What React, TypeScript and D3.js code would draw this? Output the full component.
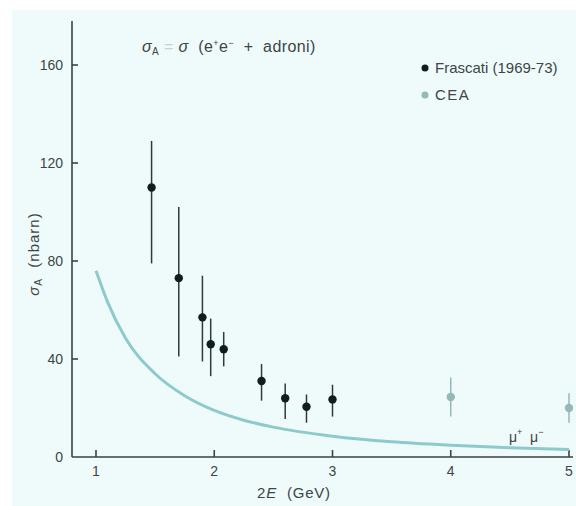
import * as d3 from "d3";

// Frascati (1969-73) points: 2E in GeV, sigma in nbarn, error bar ends
const frascatiX = [1.47, 1.7, 1.9, 1.97, 2.08, 2.4, 2.6, 2.78, 3.0];
const frascatiY = [110, 73, 57, 46, 44, 31, 24, 20.5, 23.5];
const frascatiLo = [79, 41, 39, 33, 37, 23, 15.5, 14, 16.5];
const frascatiHi = [129, 102, 74, 56.5, 51, 38, 30, 25.5, 29.5];

// CEA points
const ceaX = [4.0, 5.0];
const ceaY = [24.5, 20];
const ceaLo = [16.5, 14];
const ceaHi = [32.5, 26];

// mu+ mu- curve
const muX = [1.0, 1.1, 1.25, 1.5, 1.75, 2.0, 2.25, 2.5, 3.0, 3.5, 4.0, 4.5, 5.0];
const muY = [76, 63, 48.5, 34, 25, 19, 15, 12.2, 8.5, 6.2, 4.8, 3.8, 3.1];

const xTicks = [1, 2, 3, 4, 5];
const yTicks = [0, 40, 80, 120, 160];

const W = 576;
const H = 506;

const font = "'Liberation Sans', Arial, sans-serif";
const textColor = "#3d4545";
const axisColor = "#3a4242";
const darkDot = "#0e1e1e";
const lightDot = "#93b9b9";
const curveColor = "#8ecaca";

// keep runs of spaces in labels
const pre = { whiteSpace: "pre" as const };

export default function App() {
  const x = d3.scaleLinear([1, 5], [96, 569]);
  const y = d3.scaleLinear([0, 160], [457, 65]);

  const x0 = 72;
  const y0 = y(0);

  const curve = d3
    .line<number>()
    .x((_, i) => x(muX[i]))
    .y((d) => y(d))
    .curve(d3.curveMonotoneX)(muY);

  return (
    <svg
      width={W}
      height={H}
      style={{ position: "absolute", left: 0, top: 0, fontFamily: font }}
    >
      <rect width={W} height={H} fill="#ffffff" />
      <rect x={12} y={10} width={W - 12} height={H - 10} fill="#effbfb" />

      {/* axes */}
      <g stroke={axisColor} strokeWidth={1.6} fill="none">
        <line x1={x0} y1={21} x2={x0} y2={y0} />
        <line x1={x0} y1={y0} x2={573} y2={y0} />
        {xTicks.map((t) => (
          <line key={t} x1={x(t)} x2={x(t)} y1={y0} y2={y0 - 7} />
        ))}
        {yTicks.slice(1).map((t) => (
          <line key={t} x1={x0} x2={x0 + 6} y1={y(t)} y2={y(t)} />
        ))}
      </g>
      <g fill={textColor} fontSize={14}>
        {xTicks.map((t) => (
          <text key={t} x={x(t)} y={y0 + 19} textAnchor="middle">
            {t}
          </text>
        ))}
        {yTicks.map((t) => (
          <text key={t} x={x0 - 9} y={y(t) + 5} textAnchor="end">
            {t}
          </text>
        ))}
      </g>

      {/* mu+ mu- curve */}
      <path d={curve ?? ""} fill="none" stroke={curveColor} strokeWidth={3} />

      {/* error bars */}
      <g stroke="#2e3a3a" strokeWidth={1.5}>
        {frascatiX.map((v, i) => (
          <line
            key={i}
            x1={x(v)}
            x2={x(v)}
            y1={y(frascatiLo[i])}
            y2={y(frascatiHi[i])}
          />
        ))}
      </g>
      <g stroke={lightDot} strokeWidth={1.5}>
        {ceaX.map((v, i) => (
          <line key={i} x1={x(v)} x2={x(v)} y1={y(ceaLo[i])} y2={y(ceaHi[i])} />
        ))}
      </g>
      {frascatiX.map((v, i) => (
        <circle key={i} cx={x(v)} cy={y(frascatiY[i])} r={4.2} fill={darkDot} />
      ))}
      {ceaX.map((v, i) => (
        <circle key={i} cx={x(v)} cy={y(ceaY[i])} r={4.2} fill={lightDot} />
      ))}

      {/* title */}
      <text
        x={142}
        y={52}
        fontSize={16}
        fill={textColor}
        letterSpacing={0.4}
        style={pre}
      >
        <tspan fontStyle="italic">σ</tspan>
        <tspan fontSize={10} dy={3}>A</tspan>
        <tspan dy={-3} fill="#b9d6d6">{" = "}</tspan>
        <tspan fontStyle="italic">σ</tspan>
        <tspan>{"  (e"}</tspan>
        <tspan fontSize={9} dy={-6}>+</tspan>
        <tspan dy={6}>e</tspan>
        <tspan fontSize={9} dy={-6}>−</tspan>
        <tspan dy={6}>{"  +  adroni)"}</tspan>
      </text>

      {/* legend */}
      <circle cx={425} cy={68} r={3.5} fill={darkDot} />
      <text x={435} y={73} fontSize={15} fill={textColor}>
        Frascati (1969-73)
      </text>
      <circle cx={425} cy={95} r={3.5} fill={lightDot} />
      <text x={435} y={100} fontSize={15} fill={textColor} letterSpacing={1.5}>
        CEA
      </text>

      {/* mu label */}
      <text x={509} y={442} fontSize={14} fill={textColor} style={pre}>
        μ<tspan fontSize={9} dy={-7}>+</tspan>
        <tspan dy={7}>{"  μ"}</tspan>
        <tspan fontSize={9} dy={-7}>−</tspan>
      </text>

      {/* axis titles */}
      <text
        x={257}
        y={498}
        fontSize={15}
        fill={textColor}
        letterSpacing={0.8}
        style={pre}
      >
        2<tspan fontStyle="italic">E</tspan>
        <tspan>{"  (GeV)"}</tspan>
      </text>
      <text
        transform={`translate(39, 254) rotate(-90)`}
        textAnchor="middle"
        fontSize={15}
        fill={textColor}
        letterSpacing={1}
        style={pre}
      >
        <tspan fontStyle="italic">σ</tspan>
        <tspan fontSize={10} dy={3}>A</tspan>
        <tspan dy={-3}>{"  (nbarn)"}</tspan>
      </text>
    </svg>
  );
}
